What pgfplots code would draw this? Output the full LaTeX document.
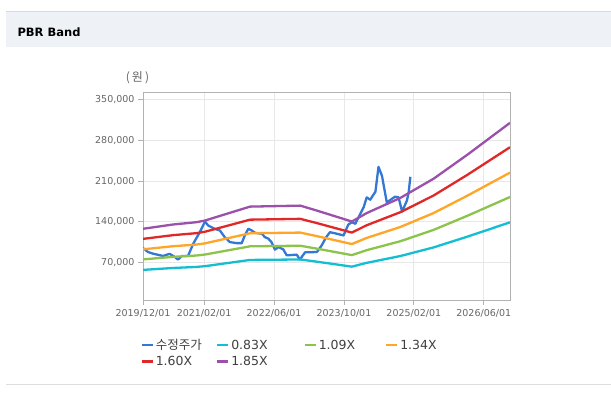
\documentclass[border=0pt]{standalone}
\usepackage{pgfplots}
\pgfplotsset{compat=1.18}
\usepackage{fontspec}
\setmainfont{DejaVu Sans}
\newfontfamily\kr{Noto Sans CJK KR}
\definecolor{cBlue}{RGB}{52,120,214}
\definecolor{cCyan}{RGB}{20,190,210}
\definecolor{cGreen}{RGB}{140,195,75}
\definecolor{cOrange}{RGB}{255,165,40}
\definecolor{cRed}{RGB}{225,40,40}
\definecolor{cPurple}{RGB}{155,80,170}
\definecolor{hdr}{RGB}{238,242,247}
\definecolor{tickgray}{RGB}{102,102,102}
\begin{document}
\begin{tikzpicture}[x=1pt,y=1pt]
\useasboundingbox (0,0) rectangle (611,398);
\fill[white] (0,0) rectangle (611,398);
\fill[hdr] (6,351.3) rectangle (611,387);
\draw[draw=black!15, line width=0.8pt] (6,387) -- (611,387);
\draw[draw=black!13, line width=0.8pt] (6,14) -- (611,14);
\node[anchor=base west, inner sep=0pt, font=\fontsize{11.5}{13}\selectfont\bfseries] at (17.3,361.5) {PBR Band};
\node[anchor=center, inner sep=0pt, text=tickgray, font=\kr\fontsize{12}{14}\selectfont] at (137.5,320) {(\,원\,)};
\begin{axis}[
  at={(143pt,98pt)}, anchor=south west,
  width=367pt, height=208pt, scale only axis,
  xmin=0, xmax=84, ymin=5700, ymax=363000,
  xtick={0,14,30,46,62,78},
  xticklabels={2019/12/01,2021/02/01,2022/06/01,2023/10/01,2025/02/01,2026/06/01},
  ytick={70000,140000,210000,280000,350000},
  yticklabels={{70,000},{140,000},{210,000},{280,000},{350,000}},
  scaled y ticks=false,
  tick label style={text=tickgray, font=\fontsize{9.5}{11}\selectfont},
  xticklabel style={yshift=-1pt},
  grid=major,
  major grid style={draw=black!9, line width=0.8pt},
  axis line style={draw=black!30, line width=0.9pt},
  tick align=outside, tick pos=left,
  major tick length=5pt,
  tick style={draw=black!30, line width=0.8pt},
  legend columns=4,
  legend style={at={(axis description cs:-0.008,-0.183)}, anchor=north west,
    draw=none, fill=none, inner sep=0pt, row sep=3pt,
    font=\fontsize{12.5}{14}\selectfont, text=black!75,
    nodes={inner xsep=2pt, inner ysep=1pt}},
  legend cell align=left,
  legend image code/.code={\draw[#1, line width=2.5pt] (0pt,0pt) -- (11pt,0pt);},
  every axis plot/.append style={line width=2.3pt, line join=round},
]
\addplot[cBlue] coordinates {
(0,94900) (1.15,88100) (2.3,85300) (4.6,81300) (6.1,85000) (7.3,79500) (8.0,75100) (8.9,81300) (10.3,81300) (11.5,102400) (13.0,122200) (14.2,140500) (14.9,133700) (16.4,128000) (17.6,125100) (18.7,113700) (19.9,105200) (21.4,103400) (22.6,103400) (23.3,116600) (24.1,128000) (24.9,125100) (25.6,121200) (27.2,119500) (27.9,113700) (28.7,111000) (29.4,105200) (30.2,92200) (31.0,96600) (32.1,92700) (32.9,82400) (35.2,83600) (35.9,75100) (37.1,87600) (39.8,88100) (40.9,99500) (41.9,113200) (42.8,122200) (44.4,119500) (45.9,116600) (47.0,135400) (47.8,139300) (48.6,136600) (49.3,147300) (50.5,164900) (51.2,182000) (52.0,178000) (53.2,191700) (53.9,234400) (54.7,219000) (55.8,173400) (57.7,183200) (58.5,182000) (59.3,157600) (60.4,176300) (60.8,190000) (61.2,217300)
};
\addlegendentry{\makebox[58pt][l]{\kr 수정주가}}
\addplot[cCyan] coordinates {
(0,57400) (6.9,60700) (12.2,62500) (14.2,63800) (19.1,68900) (24.5,74500) (36,75300) (39.8,71500) (47.8,63000) (51.2,69500) (58.9,81200) (66.5,96000) (74.2,114400) (84,139100)
};
\addlegendentry{\makebox[70pt][l]{0.83X}}
\addplot[cGreen] coordinates {
(0,75400) (6.9,79800) (12.2,82100) (14.2,83800) (19.1,90500) (24.5,97900) (36,98900) (39.8,93900) (47.8,82800) (51.2,91300) (58.9,106600) (66.5,126100) (74.2,150200) (84,182600)
};
\addlegendentry{\makebox[64pt][l]{1.09X}}
\addplot[cOrange] coordinates {
(0,92700) (6.9,98100) (12.2,100900) (14.2,103000) (19.1,111300) (24.5,120300) (36,121500) (39.8,115400) (47.8,101800) (51.2,112300) (58.9,131100) (66.5,155000) (74.2,184700) (84,224500)
};
\addlegendentry{1.34X}
\addplot[cRed] coordinates {
(0,110700) (6.9,117100) (12.2,120500) (14.2,123000) (19.1,132800) (24.5,143700) (36,145100) (39.8,137800) (47.8,121500) (51.2,134100) (58.9,156500) (66.5,185100) (74.2,220500) (84,268100)
};
\addlegendentry{1.60X}
\addplot[cPurple] coordinates {
(0,128000) (6.9,135400) (12.2,139300) (14.2,142200) (19.1,153600) (24.5,166100) (36,167800) (39.8,159300) (47.8,140500) (51.2,155000) (58.9,181000) (66.5,214000) (74.2,255000) (84,310000)
};
\addlegendentry{1.85X}
\end{axis}
\end{tikzpicture}
\end{document}
